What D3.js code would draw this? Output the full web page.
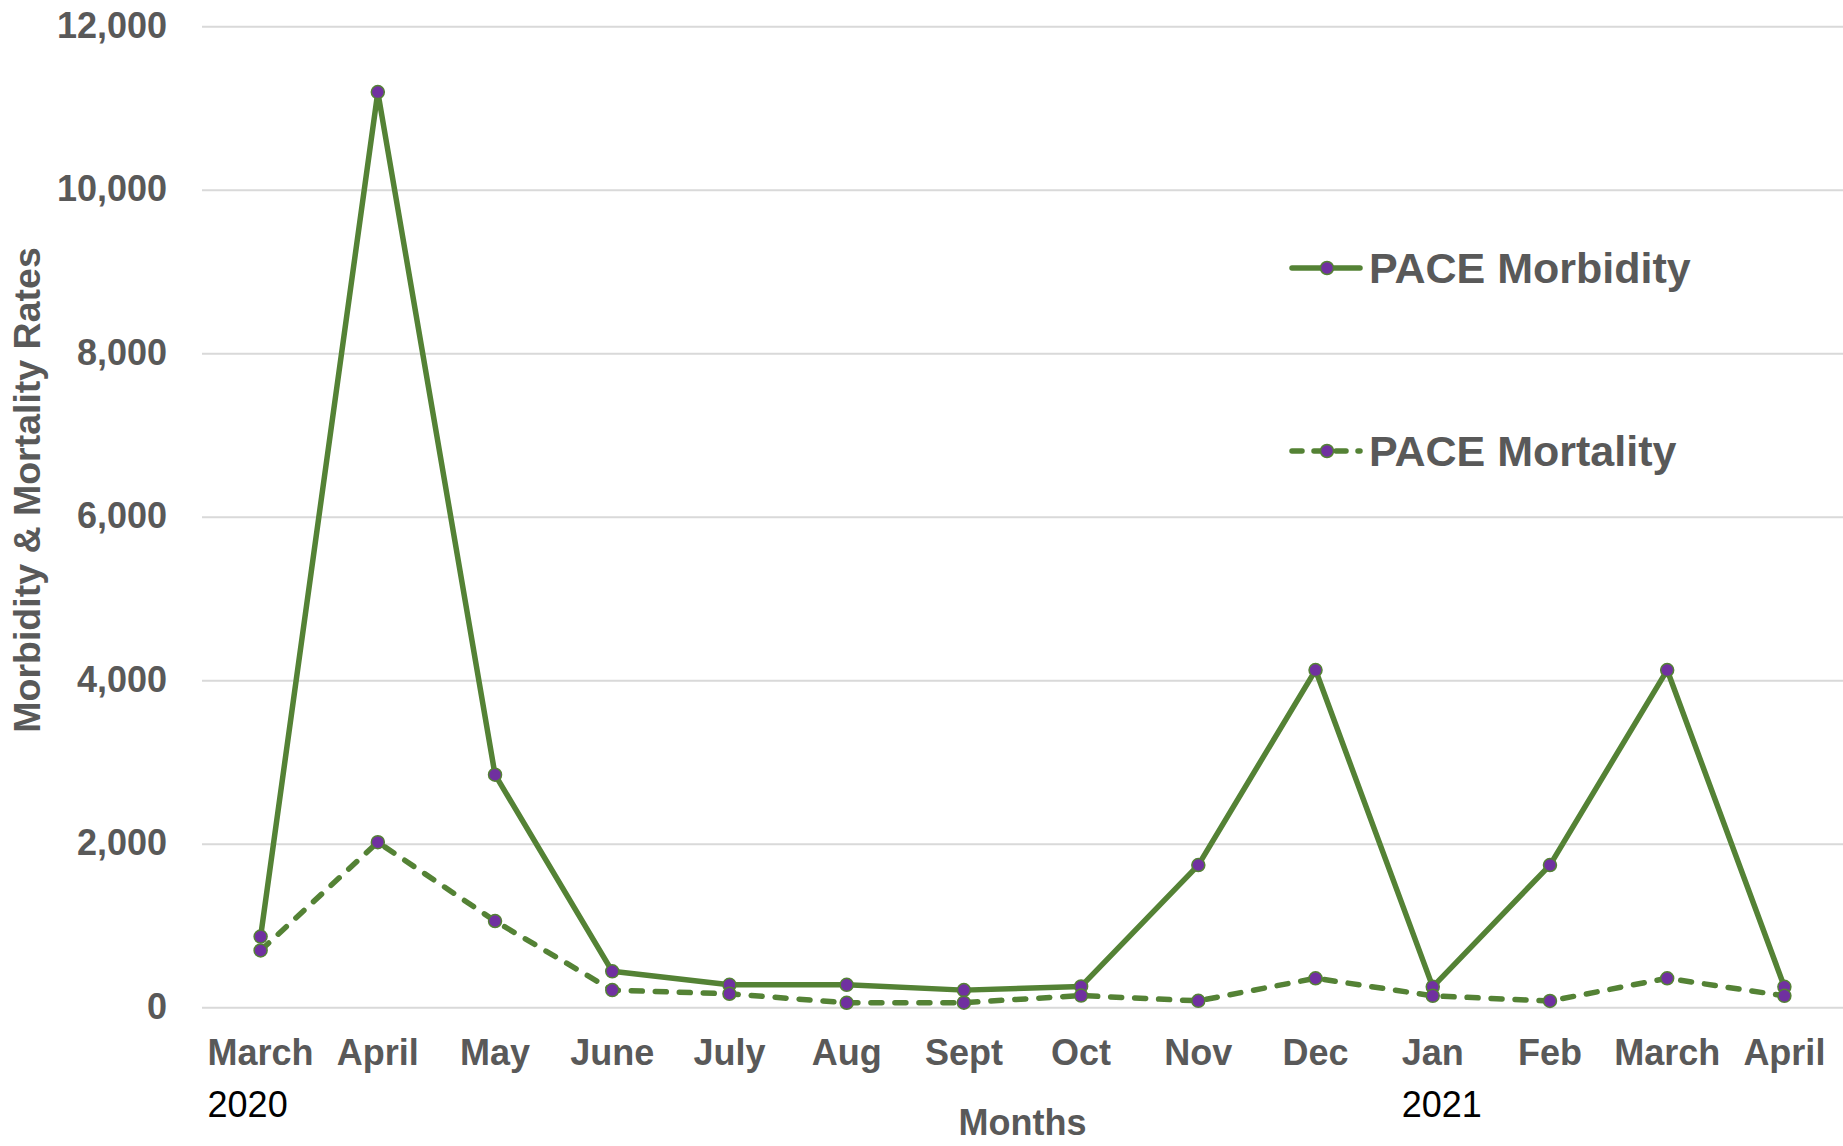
<!DOCTYPE html>
<html>
<head>
<meta charset="utf-8">
<script src="https://cdn.jsdelivr.net/npm/d3@7"></script>
<style>
  body { margin: 0; background: #fff; }
  svg text { font-family: "Liberation Sans", Arial, sans-serif; }
</style>
</head>
<body>
<svg id="chart" width="1843" height="1146"></svg>
<script>
const months = ['March', 'April', 'May', 'June', 'July', 'Aug', 'Sept', 'Oct', 'Nov', 'Dec', 'Jan', 'Feb', 'March', 'April'];
const years = [{ index: 0, label: '2020' }, { index: 10, label: '2021' }];
const morbidity = [870, 11200, 2850, 445, 280, 280, 215, 260, 1745, 4130, 255, 1745, 4130, 255];
const mortality = [700, 2025, 1060, 215, 170, 60, 62, 148, 84, 360, 145, 82, 360, 145];
const yTicks = [0, 2000, 4000, 6000, 8000, 10000, 12000];

const green = '#548235';
const purple = '#7030A0';
const textColor = '#595959';

const svg = d3.select('#chart');
const margin = { left: 202, right: 1843, top: 26.7, bottom: 1007.7 };

const keys = months.map((m, i) => i);
const x = d3.scaleBand().domain(keys).range([margin.left, margin.right]);
const cx = i => x(i) + x.bandwidth() / 2;
const y = d3.scaleLinear().domain([0, 12000]).range([margin.bottom, margin.top]);

// gridlines
svg.append('g')
    .selectAll('line')
    .data(yTicks)
    .enter()
    .append('line')
    .attr('x1', margin.left)
    .attr('x2', margin.right)
    .attr('y1', d => y(d))
    .attr('y2', d => y(d))
    .attr('stroke', '#d9d9d9')
    .attr('stroke-width', 2);

// y tick labels
svg.append('g')
    .selectAll('text')
    .data(yTicks)
    .enter()
    .append('text')
    .attr('x', 167)
    .attr('y', d => y(d))
    .attr('dy', '0.3em')
    .attr('text-anchor', 'end')
    .attr('font-size', 36)
    .attr('font-weight', 'bold')
    .attr('fill', textColor)
    .text(d => d3.format(',')(d));

// x tick labels
const xLabels = svg.append('g')
    .selectAll('text')
    .data(months)
    .enter()
    .append('text')
    .attr('x', (d, i) => cx(i))
    .attr('y', 1065)
    .attr('text-anchor', 'middle')
    .attr('font-size', 36)
    .attr('font-weight', 'bold')
    .attr('fill', textColor)
    .text(d => d);

// year labels, left aligned with their month label
const labelNodes = xLabels.nodes();
svg.append('g')
    .selectAll('text')
    .data(years)
    .enter()
    .append('text')
    .attr('x', d => cx(d.index) - labelNodes[d.index].getComputedTextLength() / 2)
    .attr('y', 1117)
    .attr('font-size', 36)
    .attr('fill', '#000')
    .text(d => d.label);

// axis titles
svg.append('text')
    .attr('x', (margin.left + margin.right) / 2)
    .attr('y', 1135)
    .attr('text-anchor', 'middle')
    .attr('font-size', 36)
    .attr('font-weight', 'bold')
    .attr('fill', textColor)
    .text('Months');

svg.append('text')
    .attr('transform', 'translate(40,490) rotate(-90)')
    .attr('text-anchor', 'middle')
    .attr('font-size', 37.5)
    .attr('font-weight', 'bold')
    .attr('fill', textColor)
    .text('Morbidity & Mortality Rates');

const line = d3.line()
    .x((d, i) => cx(i))
    .y(d => y(d));

const series = [
    { name: 'PACE Morbidity', values: morbidity, dash: null, legendY: 268 },
    { name: 'PACE Mortality', values: mortality, dash: '11,13', legendY: 451 }
];

series.forEach(s => {
    svg.append('path')
        .datum(s.values)
        .attr('d', line)
        .attr('fill', 'none')
        .attr('stroke', green)
        .attr('stroke-width', 5.5)
        .attr('stroke-linecap', 'round')
        .attr('stroke-linejoin', 'round')
        .attr('stroke-dasharray', s.dash);

    svg.append('g')
        .selectAll('circle')
        .data(s.values)
        .enter()
        .append('circle')
        .attr('cx', (d, i) => cx(i))
        .attr('cy', d => y(d))
        .attr('r', 6.5)
        .attr('fill', purple)
        .attr('stroke', green)
        .attr('stroke-width', 1.5);
});

// legend
series.forEach(s => {
    const g = svg.append('g');
    g.append('line')
        .attr('x1', 1292)
        .attr('x2', 1360)
        .attr('y1', s.legendY)
        .attr('y2', s.legendY)
        .attr('stroke', green)
        .attr('stroke-width', 5.5)
        .attr('stroke-linecap', 'round')
        .attr('stroke-dasharray', s.dash ? '10,12' : null);
    g.append('circle')
        .attr('cx', 1327)
        .attr('cy', s.legendY)
        .attr('r', 6.5)
        .attr('fill', purple)
        .attr('stroke', green)
        .attr('stroke-width', 1.5);
    g.append('text')
        .attr('x', 1369)
        .attr('y', s.legendY + 15)
        .attr('font-size', 43)
        .attr('font-weight', 'bold')
        .attr('fill', textColor)
        .text(s.name);
});
</script>
</body>
</html>
